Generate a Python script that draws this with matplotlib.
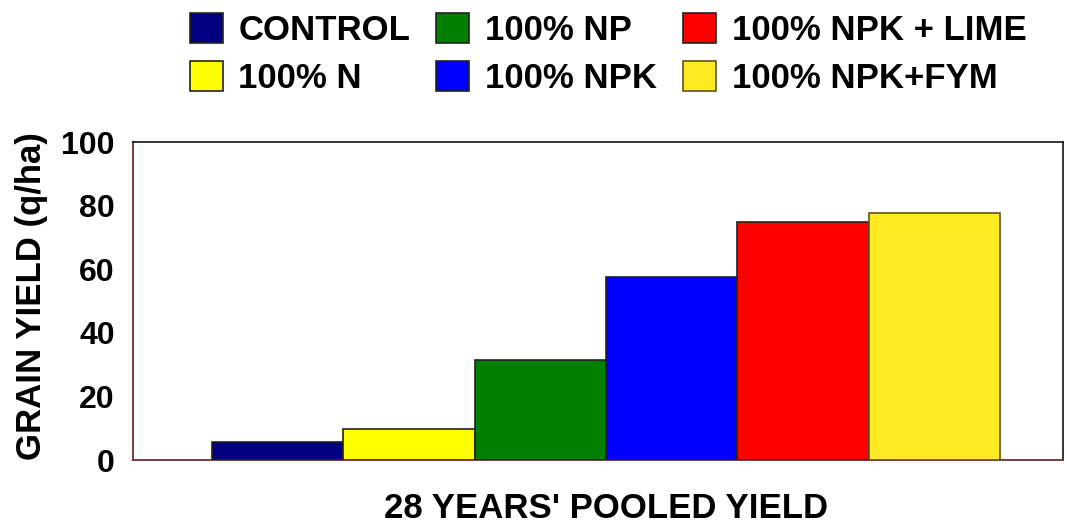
import numpy as np
import matplotlib
matplotlib.use("Agg")
import matplotlib.pyplot as plt

plt.rcParams.update({
    "font.family": ["Liberation Sans", "DejaVu Sans"],
    "font.weight": "bold",
})

# data
treatments = ["CONTROL", "100% N", "100% NP", "100% NPK",
              "100% NPK + LIME", "100% NPK+FYM"]
yields = [5.8, 9.7, 31.3, 57.5, 74.8, 77.8]
colors = ["#000080", "#FFFF00", "#008000", "#0000FF", "#FF0000", "#FFEB22"]
edges = ["#222222", "#222222", "#222222", "#222222", "#222222", "#5c5420"]
yticks = [0, 20, 40, 60, 80, 100]

fig = plt.figure(figsize=(10.67, 5.25), dpi=100)
ax = fig.add_axes([133 / 1067, 1 - 460 / 525, 930 / 1067, 318 / 525])

x = np.arange(len(yields))
bars = ax.bar(x, yields, width=1.0, color=colors, edgecolor=edges,
              linewidth=1.2, label=treatments, zorder=3)

ax.set_xlim(-1.1, 5.98)
ax.set_ylim(0, 100)
ax.set_yticks(yticks)
ax.set_yticklabels([str(v) for v in yticks], fontsize=23, fontweight="bold")
ax.set_xticks([])
ax.tick_params(axis="y", length=0, pad=13)

for side in ["top", "right"]:
    ax.spines[side].set_color("black")
    ax.spines[side].set_linewidth(1.1)
for side in ["left", "bottom"]:
    ax.spines[side].set_color("#6b3030")
    ax.spines[side].set_linewidth(1.3)

fig.text(32 / 1067, 1 - 296 / 525, "GRAIN YIELD (q/ha)", rotation=90,
         ha="center", va="center", fontsize=25, fontweight="bold")
fig.text(606 / 1067, 1 - 508 / 525, "28 YEARS' POOLED YIELD",
         ha="center", va="center", fontsize=25, fontweight="bold")

fig.legend(handles=list(bars), labels=treatments, ncol=3, frameon=False,
           loc="upper center", bbox_to_anchor=(608 / 1067, 1 - 13 / 525),
           prop={"size": 25, "weight": "bold"},
           handlelength=0.95, handleheight=0.95, handletextpad=0.45,
           columnspacing=0.75, labelspacing=0.42, borderpad=0.0,
           borderaxespad=0.0)

fig.savefig("out.png", dpi=100)
